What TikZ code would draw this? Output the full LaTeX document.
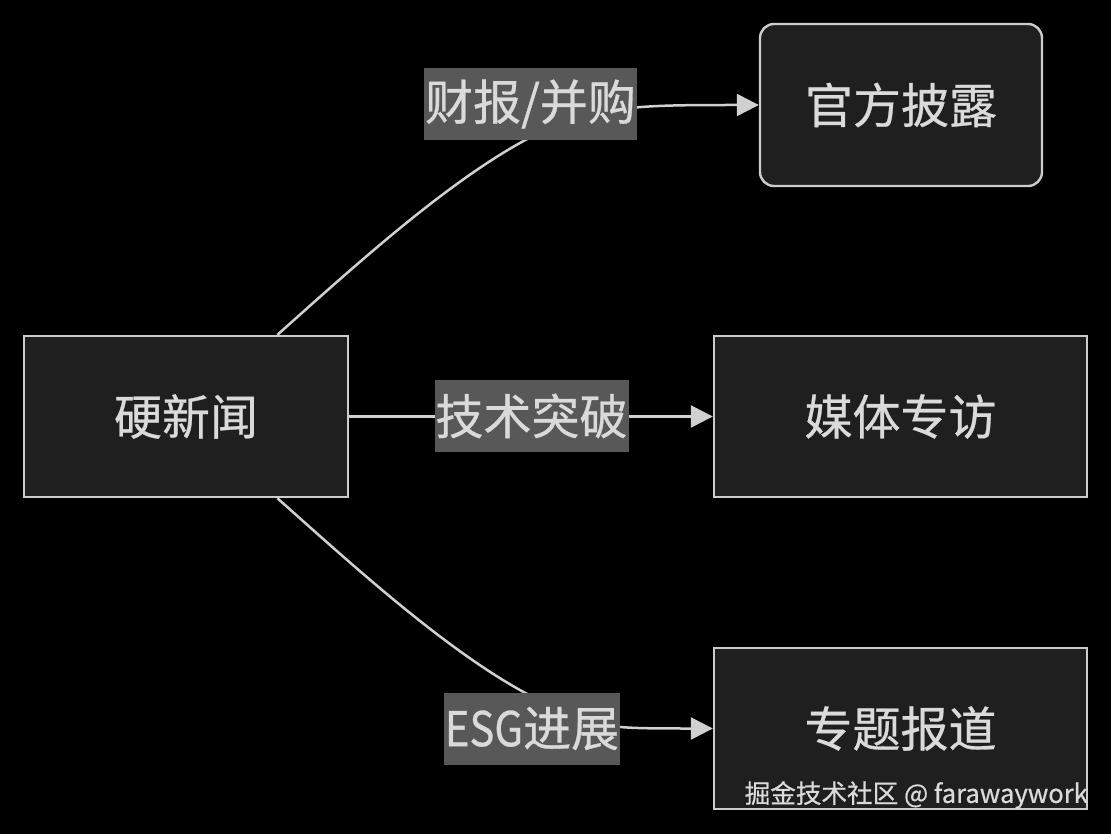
\documentclass[tikz,border=0pt]{standalone}
\usepackage{fontspec}
\setmainfont{Noto Sans CJK SC}[FakeBold=0.6]
\usetikzlibrary{arrows.meta,calc}
\definecolor{bg}{HTML}{000000}
\definecolor{nodefill}{HTML}{1F1F1F}
\definecolor{nodeline}{HTML}{CCCCCC}
\definecolor{txt}{HTML}{DADADA}
\definecolor{lblfill}{HTML}{585858}
\definecolor{edgecol}{HTML}{D0D0D0}
\begin{document}
\begin{tikzpicture}[x=1pt,y=-1pt,
  box/.style={draw=nodeline,line width=2.4pt,fill=nodefill,text=txt,
    minimum height=161pt,font=\fontsize{48}{56}\selectfont,inner sep=0pt},
  rbox/.style={box,rounded corners=14pt},
  lbl/.style={fill=lblfill,text=txt,font=\fontsize{48}{56}\selectfont,
    minimum height=72pt,inner xsep=1pt,inner ysep=0pt},
  edge/.style={draw=edgecol,line width=2.5pt},
  arr/.style={edge,-{Triangle[length=22pt,width=22pt]}}]
\fill[bg] (0,0) rectangle (1111,834);
\useasboundingbox (0,0) rectangle (1111,834);

\node[box,minimum width=324pt] (hard) at (186,416.5) {硬新闻};
\node[rbox,minimum width=282pt,minimum height=162pt] (off) at (901,105) {官方披露};
\node[box,minimum width=373pt] (media) at (900.5,416.5) {媒体专访};
\node[box,minimum width=373pt] (topic) at (900.5,728.5) {专题报道};

% connectors (drawn under labels)
\coordinate (m1) at (545,130);
\coordinate (m3) at (545,703);
\draw[arr] ($(hard.north)!0.56!(hard.north east)$)
  .. controls +(83,-74) and +(-85,40) .. (m1)
  .. controls +(55,-25) and +(-110,0) .. (off.west);
\draw[arr] (hard.east) -- (media.west);
\draw[arr] ($(hard.south)!0.56!(hard.south east)$)
  .. controls +(83,74) and +(-85,-40) .. (m3)
  .. controls +(55,25) and +(-110,0) .. (topic.west);

\node[lbl] (l1) at (530.5,104) {财报/并购};
\node[lbl] (l2) at (531.5,416) {技术突破};
\node[lbl] (l3) at (532,728.5) {\scalebox{0.87}[1]{ESG}进展};

\node[anchor=east,inner sep=0pt,text=txt,font=\fontsize{25.6}{30}\selectfont] (wm) at (1088,795) {掘金技术社区 @ farawaywork};
\end{tikzpicture}
\end{document}
